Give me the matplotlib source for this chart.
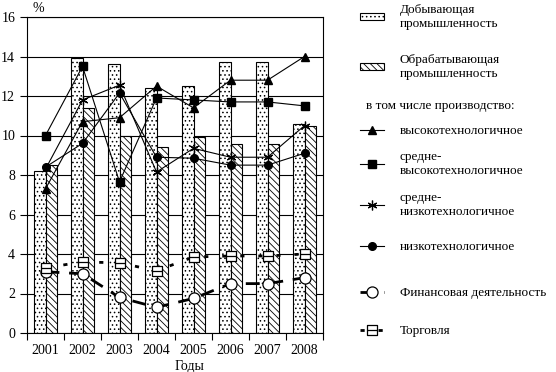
import numpy as np
import matplotlib.pyplot as plt
from matplotlib.path import Path
from matplotlib.patches import Patch

plt.rcParams['font.family'] = ['Liberation Serif', 'DejaVu Serif']
plt.rcParams['hatch.linewidth'] = 0.6

# data (%)
years = ['2001', '2002', '2003', '2004', '2005', '2006', '2007', '2008']
mining = [8.2, 13.9, 13.6, 12.4, 12.5, 13.7, 13.7, 10.6]
manufacturing = [8.5, 11.4, 10.0, 9.4, 9.9, 9.55, 9.55, 10.5]
high_tech = [7.3, 10.7, 10.9, 12.5, 11.4, 12.8, 12.8, 14.0]
mid_high_tech = [10.0, 13.5, 7.65, 11.9, 11.8, 11.7, 11.7, 11.5]
mid_low_tech = [8.3, 11.8, 12.55, 8.15, 9.35, 8.9, 8.9, 10.5]
low_tech = [8.4, 9.6, 12.15, 8.9, 8.85, 8.5, 8.5, 9.1]
finance = [3.1, 3.0, 1.8, 1.3, 1.75, 2.5, 2.5, 2.8]
trade = [3.3, 3.6, 3.55, 3.15, 3.85, 3.9, 3.9, 4.0]

W, H = 556, 372
fig = plt.figure(figsize=(W / 100, H / 100), dpi=100)
ax = fig.add_axes([27 / W, 1 - 333 / H, 296 / W, 316 / H])

x = np.arange(len(years))
bw = 0.3
ax.bar(x - bw / 2, mining, bw, color='white', edgecolor='black', lw=0.8,
       hatch='....', zorder=2)
ax.bar(x + bw / 2, manufacturing, bw, color='white', edgecolor='black', lw=0.8,
       hatch='\\\\\\\\\\', zorder=2)

# square with a bar through it, for "Торговля"
sq_mark = Path([(-1, -1), (1, -1), (1, 1), (-1, 1), (-1, -1), (-1, 0), (1, 0)],
               [Path.MOVETO, Path.LINETO, Path.LINETO, Path.LINETO, Path.CLOSEPOLY,
                Path.MOVETO, Path.LINETO])

thin = dict(color='black', lw=0.8, zorder=4)
l_high, = ax.plot(x, high_tech, marker='^', ms=6, **thin)
l_mhigh, = ax.plot(x, mid_high_tech, marker='s', ms=5.5, **thin)
l_mlow, = ax.plot(x, mid_low_tech, marker=(6, 2, 0), ms=7, mew=0.9, **thin)
l_low, = ax.plot(x, low_tech, marker='o', ms=5.5, **thin)
l_fin, = ax.plot(x, finance, color='black', lw=2.0, dashes=(5, 3.5),
                 marker='o', ms=8, mfc='white', mec='black', mew=0.9, zorder=4)
l_trade, = ax.plot(x, trade, color='black', lw=2.0, dashes=(1.5, 5),
                   marker=sq_mark, ms=7, mfc='white', mec='black', mew=0.9, zorder=4)

ax.set_xlim(-0.5, len(years) - 0.5)
ax.set_ylim(0, 16)
ax.set_yticks(np.arange(0, 17, 2))
ax.yaxis.grid(True, color='black', lw=0.8)
ax.set_axisbelow(True)
ax.set_xticks(np.arange(-0.5, len(years), 1))
ax.set_xticklabels([])
ax.set_xticks(x, minor=True)
ax.set_xticklabels(years, minor=True)
ax.tick_params(axis='x', which='minor', length=0, labelsize=10, pad=8)
ax.tick_params(axis='x', which='major', length=5, width=0.8)
ax.tick_params(axis='y', length=5, width=0.8, labelsize=10)
for s in ax.spines.values():
    s.set_linewidth(0.8)

ax.text(0.02, 1.005, '%', transform=ax.transAxes, fontsize=10, va='bottom')
ax.set_xlabel('Годы', fontsize=10)
ax.xaxis.set_label_coords(0.55, -0.085)

# legend on the right, one entry at a time
p_mining = Patch(facecolor='white', edgecolor='black', hatch='....', lw=0.8)
p_manuf = Patch(facecolor='white', edgecolor='black', hatch='\\\\\\\\\\', lw=0.8)
entries = [
    (p_mining, 'Добывающая\nпромышленность', 17),
    (p_manuf, 'Обрабатывающая\nпромышленность', 67),
    (l_high, 'высокотехнологичное', 131),
    (l_mhigh, 'средне-\nвысокотехнологичное', 164),
    (l_mlow, 'средне-\nнизкотехнологичное', 205),
    (l_low, 'низкотехнологичное', 247),
    (l_fin, 'Финансовая деятельность', 293),
    (l_trade, 'Торговля', 331),
]
for h, lab, ypx in entries:
    fig.legend([h], [lab], loc='center left', bbox_to_anchor=(360 / W, 1 - ypx / H),
               frameon=False, borderpad=0, borderaxespad=0, handlelength=1.8,
               handleheight=0.45, handletextpad=1.2, fontsize=9.5)
fig.text(366 / W, 1 - 106 / H, 'в том числе производство:', fontsize=9.5, va='center')

fig.savefig('out.png', dpi=100)
